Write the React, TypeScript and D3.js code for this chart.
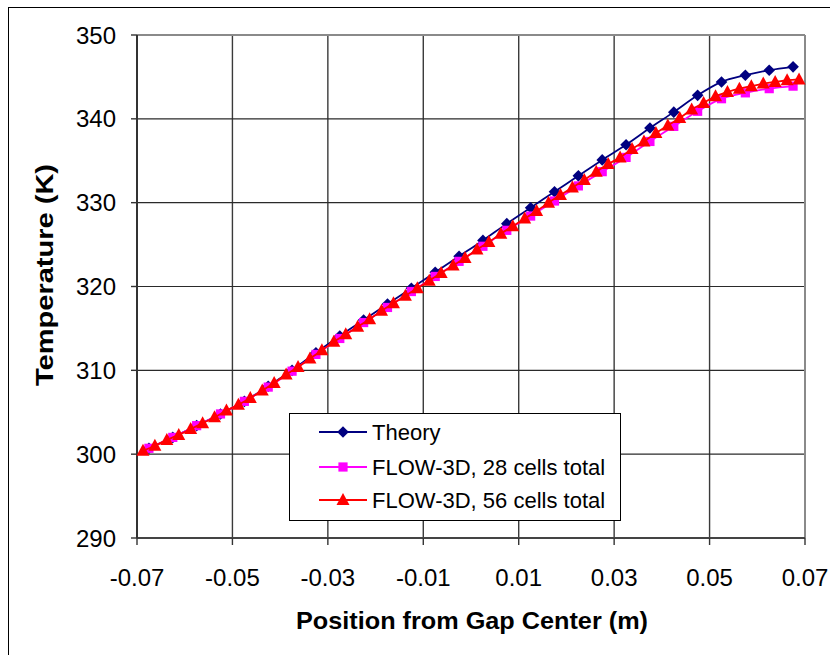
import React from "react";
import * as d3 from "d3";

// ---- Data ----
const theoryX = [
  -0.0675, -0.0625, -0.0575, -0.0525, -0.0475, -0.0425, -0.0375, -0.0325, -0.0275, -0.0225,
  -0.0175, -0.0125, -0.0075, -0.0025, 0.0025, 0.0075, 0.0125, 0.0175, 0.0225, 0.0275,
  0.0325, 0.0375, 0.0425, 0.0475, 0.0525, 0.0575, 0.0625, 0.0675,
];
const theoryT = [
  300.7, 302.0, 303.4, 304.8, 306.3, 308.1, 310.0, 312.1, 314.1, 316.0,
  317.9, 319.8, 321.7, 323.6, 325.5, 327.5, 329.4, 331.3, 333.2, 335.1,
  336.9, 338.9, 340.8, 342.8, 344.4, 345.2, 345.8, 346.2,
];
const cells28X = theoryX;
const cells28T = [
  300.7, 302.0, 303.4, 304.8, 306.3, 308.0, 309.9, 311.9, 313.8, 315.7,
  317.5, 319.4, 321.2, 323.0, 324.8, 326.7, 328.4, 330.2, 332.0, 333.7,
  335.4, 337.3, 339.1, 340.9, 342.4, 343.1, 343.6, 343.9,
];
const cells56X = [
  -0.06875, -0.06625, -0.06375, -0.06125, -0.05875, -0.05625, -0.05375, -0.05125,
  -0.04875, -0.04625, -0.04375, -0.04125, -0.03875, -0.03625, -0.03375, -0.03125,
  -0.02875, -0.02625, -0.02375, -0.02125, -0.01875, -0.01625, -0.01375, -0.01125,
  -0.00875, -0.00625, -0.00375, -0.00125, 0.00125, 0.00375, 0.00625, 0.00875,
  0.01125, 0.01375, 0.01625, 0.01875, 0.02125, 0.02375, 0.02625, 0.02875,
  0.03125, 0.03375, 0.03625, 0.03875, 0.04125, 0.04375, 0.04625, 0.04875,
  0.05125, 0.05375, 0.05625, 0.05875, 0.06125, 0.06375, 0.06625, 0.06875,
];
const cells56T = [
  300.4, 301.0, 301.7, 302.3, 303.0, 303.7, 304.4, 305.2,
  305.9, 306.7, 307.6, 308.5, 309.5, 310.4, 311.4, 312.4,
  313.4, 314.3, 315.2, 316.1, 317.1, 318.0, 318.9, 319.8,
  320.7, 321.6, 322.5, 323.4, 324.4, 325.3, 326.3, 327.2,
  328.1, 329.0, 330.0, 330.9, 331.8, 332.7, 333.7, 334.6,
  335.4, 336.4, 337.3, 338.3, 339.2, 340.1, 341.1, 341.9,
  342.7, 343.2, 343.6, 343.9, 344.2, 344.4, 344.6, 344.7,
];
const xTicks = [-0.07, -0.05, -0.03, -0.01, 0.01, 0.03, 0.05, 0.07];
const xTickLabels = ["-0.07", "-0.05", "-0.03", "-0.01", "0.01", "0.03", "0.05", "0.07"];
const yTicks = [290, 300, 310, 320, 330, 340, 350];
const seriesNames = ["Theory", "FLOW-3D, 28 cells total", "FLOW-3D, 56 cells total"];
const seriesColors = ["#000080", "#FF00FF", "#FF0000"];

const FONT = "'Liberation Sans', Arial, Helvetica, sans-serif";

const L = 137, R = 805, T = 35, B = 538;

function Marker({ kind, cx, cy, color }: { kind: number; cx: number; cy: number; color: string }) {
  if (kind === 0) {
    const h = 5.8;
    return <path d={`M${cx},${cy - h}L${cx + h},${cy}L${cx},${cy + h}L${cx - h},${cy}Z`} fill={color} />;
  }
  if (kind === 1) {
    const h = 4.6;
    return <rect x={cx - h} y={cy - h} width={2 * h} height={2 * h} fill={color} />;
  }
  return <path d={`M${cx},${cy - 7}L${cx + 6.5},${cy + 5}L${cx - 6.5},${cy + 5}Z`} fill={color} />;
}

export default function App() {
  const x = d3.scaleLinear().domain([-0.07, 0.07]).range([L, R]);
  const y = d3.scaleLinear().domain([290, 350]).range([B, T]);
  const line = d3
    .line<[number, number]>()
    .x((d) => x(d[0]))
    .y((d) => y(d[1]))
    .curve(d3.curveMonotoneX);

  const series = [
    { xs: theoryX, ts: theoryT },
    { xs: cells28X, ts: cells28T },
    { xs: cells56X, ts: cells56T },
  ];

  const legendRows = [432, 467, 500];

  return (
    <div style={{ position: "absolute", left: 0, top: 0 }}>
      <svg width={830} height={655} style={{ display: "block", background: "#fff" }}>
        <rect x={0} y={0} width={830} height={655} fill="#fff" />
        <rect x={8.5} y={7.5} width={900} height={700} fill="none" stroke="#000" strokeWidth={1} />

        {/* gridlines */}
        {xTicks.map((t, i) => (
          <line key={"gx" + i} x1={x(t)} x2={x(t)} y1={T} y2={B} stroke="#3a3a3a" strokeWidth={1.4} />
        ))}
        {yTicks.map((t, i) => (
          <line key={"gy" + i} x1={L} x2={R} y1={y(t)} y2={y(t)} stroke="#2a2a2a" strokeWidth={1.2} />
        ))}
        {/* plot frame */}
        <line x1={L} x2={R} y1={T} y2={T} stroke="#8a8a8a" strokeWidth={2} />
        <line x1={R} x2={R} y1={T} y2={B} stroke="#8a8a8a" strokeWidth={2} />
        <line x1={L} x2={R} y1={B} y2={B} stroke="#444" strokeWidth={2} />
        <line x1={L} x2={L} y1={T} y2={B} stroke="#333" strokeWidth={2} />

        {/* ticks */}
        {xTicks.map((t, i) => (
          <g key={"tx" + i}>
            <line x1={x(t)} x2={x(t)} y1={B} y2={B + 7} stroke="#333" strokeWidth={1.4} />
            <text x={x(t)} y={586} textAnchor="middle" fontFamily={FONT} fontSize={24} fill="#000">
              {xTickLabels[i]}
            </text>
          </g>
        ))}
        {yTicks.map((t, i) => (
          <g key={"ty" + i}>
            <line x1={L - 6} x2={L} y1={y(t)} y2={y(t)} stroke="#333" strokeWidth={1.4} />
            <text x={116} y={y(t)} dy="0.36em" textAnchor="end" fontFamily={FONT} fontSize={24} fill="#000">
              {t}
            </text>
          </g>
        ))}

        {/* axis titles */}
        <text
          x={472}
          y={629}
          textAnchor="middle"
          fontFamily={FONT}
          fontSize={24}
          fontWeight="bold"
          fill="#000"
          textLength={352}
          lengthAdjust="spacingAndGlyphs"
        >
          Position from Gap Center (m)
        </text>
        <text
          transform="translate(53,275) rotate(-90)"
          textAnchor="middle"
          fontFamily={FONT}
          fontSize={24}
          fontWeight="bold"
          fill="#000"
          textLength={222}
          lengthAdjust="spacingAndGlyphs"
        >
          Temperature (K)
        </text>

        {/* series */}
        {series.map((s, si) => {
          const pts = s.xs.map((v, i) => [v, s.ts[i]] as [number, number]);
          return (
            <g key={"s" + si}>
              <path d={line(pts) || ""} fill="none" stroke={seriesColors[si]} strokeWidth={1.8} />
              {pts.map((p, i) => (
                <Marker key={i} kind={si} cx={x(p[0])} cy={y(p[1])} color={seriesColors[si]} />
              ))}
            </g>
          );
        })}

        {/* legend */}
        <rect x={289.5} y={413.5} width={331} height={107} fill="#fff" stroke="#000" strokeWidth={1} />
        {seriesNames.map((n, i) => (
          <g key={"lg" + i}>
            <line x1={319} x2={367} y1={legendRows[i]} y2={legendRows[i]} stroke={seriesColors[i]} strokeWidth={1.8} />
            <Marker kind={i} cx={343} cy={legendRows[i]} color={seriesColors[i]} />
            <text x={372} y={legendRows[i]} dy="0.36em" fontFamily={FONT} fontSize={22} fill="#000">
              {n}
            </text>
          </g>
        ))}
      </svg>
    </div>
  );
}
